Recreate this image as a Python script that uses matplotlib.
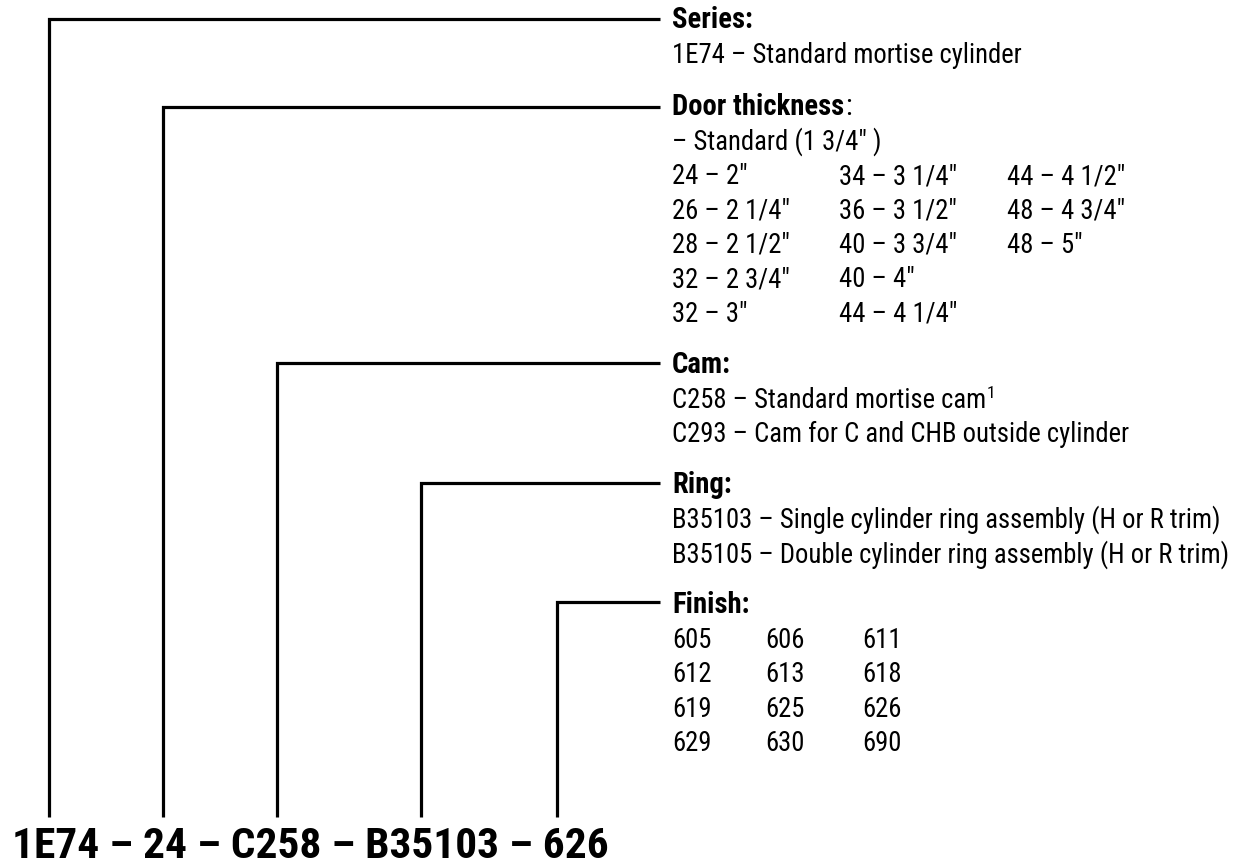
import matplotlib
matplotlib.use('Agg')
import matplotlib.pyplot as plt
from matplotlib import font_manager

# ordering code pieces and the option blocks hanging off them
CODE_PARTS = ['1E74', '24', 'C258', 'B35103', '626']
HEADERS = ['Series:', 'Door thickness', 'Cam:', 'Ring:', 'Finish:']
SERIES_ROWS = [['1E74 \u2013 Standard mortise cylinder']]
DOOR_ROWS = [
    ['\u2013 Standard (1 3/4\u2033 )'],
    ['24 \u2013 2\u2033', '34 \u2013 3 1/4\u2033', '44 \u2013 4 1/2\u2033'],
    ['26 \u2013 2 1/4\u2033', '36 \u2013 3 1/2\u2033', '48 \u2013 4 3/4\u2033'],
    ['28 \u2013 2 1/2\u2033', '40 \u2013 3 3/4\u2033', '48 \u2013 5\u2033'],
    ['32 \u2013 2 3/4\u2033', '40 \u2013 4\u2033'],
    ['32 \u2013 3\u2033', '44 \u2013 4 1/4\u2033'],
]
CAM_ROWS = [['C258 \u2013 Standard mortise cam'],
            ['C293 \u2013 Cam for C and CHB outside cylinder']]
RING_ROWS = [['B35103 \u2013 Single cylinder ring assembly (H or R trim)'],
             ['B35105 \u2013 Double cylinder ring assembly (H or R trim)']]
FINISH_ROWS = [['605', '606', '611'],
               ['612', '613', '618'],
               ['619', '625', '626'],
               ['629', '630', '690']]
BLOCKS = [SERIES_ROWS, DOOR_ROWS, CAM_ROWS, RING_ROWS, FINISH_ROWS]

# layout (pixels)
LEAD_X = [49, 163, 277, 421, 557]
LEAD_Y = [18.5, 107, 363, 483, 602]
HEAD_BASE = [28, 115, 373, 493, 613]
LINE_END_X = 660
LINE_BOTTOM = 817
TEXT_X = 672
ROW_STEP = 34.3
COL_X = {1: [672, 839, 1007], 4: [672, 765, 862]}
# target widths
BODY_W = 557     # longest ring line
HEAD_W = 80      # "Series:"
CODE_W = 596     # bottom ordering code

avail = {f.name for f in font_manager.fontManager.ttflist}
FAM = [f for f in ['Roboto Condensed', 'Liberation Sans Narrow', 'Arial Narrow',
                   'Liberation Sans', 'DejaVu Sans'] if f in avail][:1]
FAM.append('DejaVu Sans')

fig = plt.figure(figsize=(12.34, 8.64), dpi=100, facecolor='white')
ax = fig.add_axes([0, 0, 1, 1])
ax.set_xlim(0, 1234)
ax.set_ylim(864, 0)
ax.axis('off')
rend = fig.canvas.get_renderer()


def fit_size(s, width, weight='normal'):
    t = ax.text(0, 0, s, fontsize=20, fontweight=weight, family=FAM)
    w = t.get_window_extent(rend).width
    t.remove()
    return 20 * width / w


body_fs = fit_size(RING_ROWS[1][0], BODY_W)
head_fs = fit_size('Series:', HEAD_W, 'bold')
code_fs = fit_size(' \u2013 '.join(CODE_PARTS), CODE_W, 900)

for i in range(5):
    ax.plot([LEAD_X[i], LEAD_X[i], LINE_END_X], [LINE_BOTTOM, LEAD_Y[i], LEAD_Y[i]],
            color='black', lw=2.3, solid_joinstyle='miter', solid_capstyle='butt')
    ax.text(TEXT_X, HEAD_BASE[i], HEADERS[i], fontsize=head_fs, fontweight='bold',
            family=FAM, va='baseline', ha='left')
    cols = COL_X.get(i, [TEXT_X])
    base = HEAD_BASE[i] + 35
    for r, row in enumerate(BLOCKS[i]):
        for c, s in enumerate(row):
            ax.text(cols[c], base + r * ROW_STEP, s, fontsize=body_fs, family=FAM,
                    va='baseline', ha='left')

fig.canvas.draw()
inv = ax.transData.inverted()

# non-bold colon after "Door thickness"
door = [t for t in ax.texts if t.get_text() == 'Door thickness'][0]
bb = door.get_window_extent(rend)
x1 = inv.transform((bb.x1, bb.y0))[0]
ax.text(x1 + 1, HEAD_BASE[1], ':', fontsize=head_fs, family=FAM, va='baseline', ha='left')

# footnote mark on the standard cam
cam = [t for t in ax.texts if t.get_text().startswith('C258')][0]
bb = cam.get_window_extent(rend)
x1 = inv.transform((bb.x1, bb.y0))[0]
ax.text(x1 + 1, HEAD_BASE[2] + 35 - 10, '1', fontsize=body_fs * 0.65, family=FAM,
        va='baseline', ha='left')

ax.text(12, 858, ' \u2013 '.join(CODE_PARTS), fontsize=code_fs, fontweight=900,
        family=FAM, va='baseline', ha='left')

plt.savefig('out.png', dpi=100, facecolor='white')
